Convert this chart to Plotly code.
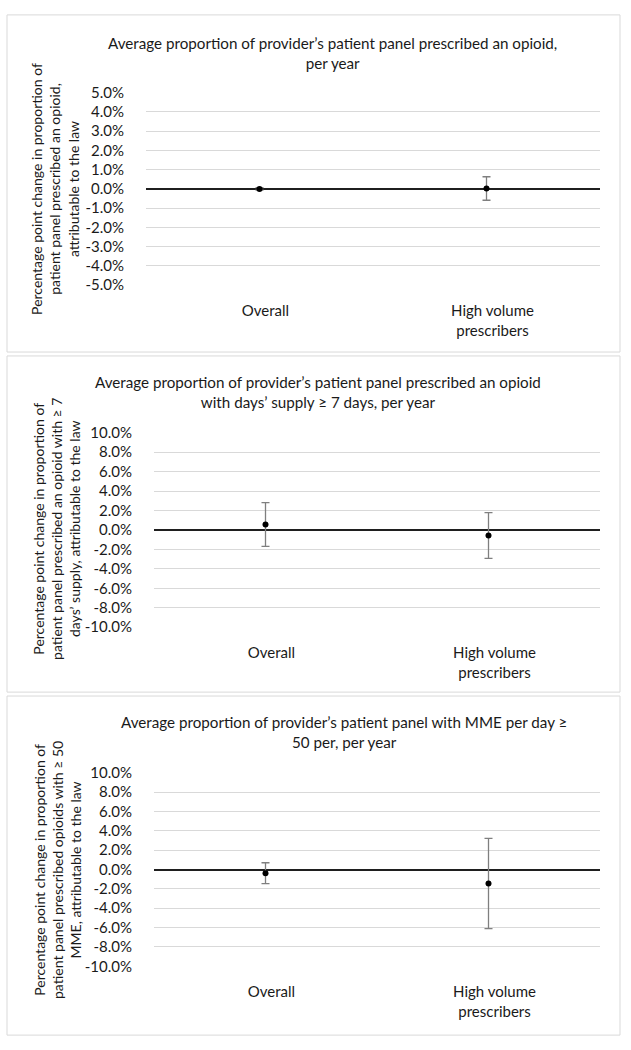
import plotly.graph_objects as go

W, H = 631, 1050

categories = ["Overall", "High volume<br>prescribers"]

titles = [
    "Average proportion of provider\u2019s patient panel prescribed an opioid,<br>per year",
    "Average proportion of provider\u2019s patient panel prescribed an opioid<br>with days\u2019 supply \u2265 7 days, per year",
    "Average proportion of provider\u2019s patient panel with MME per day \u2265<br>50 per, per year",
]
ytitles = [
    "Percentage point change in proportion of<br>patient panel prescribed an opioid,<br>attributable to the law",
    "Percentage point change in proportion of<br>patient panel prescribed an opioid with \u2265 7<br>days\u2019 supply, attributable to the law",
    "Percentage point change in proportion of<br>patient panel prescribed opioids with \u2265 50<br>MME, attributable to the law",
]

# point estimates and symmetric error (percentage points)
p1_values = [0.0, 0.02]
p1_err = [0.06, 0.61]
p2_values = [0.55, -0.58]
p2_err = [2.25, 2.35]
p3_values = [-0.38, -1.45]
p3_err = [1.08, 4.66]

p1_ticks = [5, 4, 3, 2, 1, 0, -1, -2, -3, -4, -5]
p23_ticks = [10, 8, 6, 4, 2, 0, -2, -4, -6, -8, -10]

values = [p1_values, p2_values, p3_values]
errors = [p1_err, p2_err, p3_err]
ticks = [p1_ticks, p23_ticks, p23_ticks]

# layout (pixels)
panels = [
    dict(box=(7, 5, 620, 348), plot=(146, 84, 600, 280), title=(332, 44), ytitle=(55, 182)),
    dict(box=(7, 352, 620, 694), plot=(154, 430, 600, 628), title=(318, 389), ytitle=(57, 528)),
    dict(box=(7, 698, 620, 1043), plot=(154, 776, 600, 973), title=(344, 735), ytitle=(57, 875)),
]

def px(x):
    return x / W

def py(y):
    return 1 - y / H

FONT = "Lato"
TXT = "#1a1a1a"

fig = go.Figure()
shapes = []
annotations = []

for i in range(3):
    p = panels[i]
    ax = "" if i == 0 else str(i + 1)
    fig.add_trace(go.Scatter(
        x=categories, y=values[i],
        mode="markers",
        marker=dict(color="black", size=6),
        error_y=dict(type="data", array=errors[i], visible=True,
                     color="#7f7f7f", thickness=1.3, width=4),
        xaxis="x" + ax, yaxis="y" + ax, showlegend=False,
        hoverinfo="skip",
    ))
    x0, y0, x1, y1 = p["plot"]
    tv = ticks[i]
    fig.layout["xaxis" + ax] = dict(
        domain=[px(x0), px(x1)], anchor="y" + ax,
        type="category", range=[-0.5, 1.5],
        showgrid=False, zeroline=False, showline=False, ticks="",
        tickfont=dict(family=FONT, size=15, color=TXT),
        ticklabelstandoff=15, ticklabelshift=6,
    )
    fig.layout["yaxis" + ax] = dict(
        domain=[py(y1), py(y0)], anchor="x" + ax,
        range=[tv[-1], tv[0]],
        tickvals=tv, ticktext=[f"{v:.1f}%" for v in tv],
        showgrid=True, gridcolor="#d9d9d9", gridwidth=1,
        zeroline=True, zerolinecolor="#1f1f1f", zerolinewidth=1.5,
        showline=False, ticks="",
        tickfont=dict(family=FONT, size=15, color=TXT),
        ticklabelstandoff=21,
    )
    bx0, by0, bx1, by1 = p["box"]
    shapes.append(dict(type="rect", xref="paper", yref="paper",
                       x0=px(bx0), x1=px(bx1), y0=py(by1), y1=py(by0),
                       line=dict(color="#d9d9d9", width=1), layer="below"))
    tx, ty = p["title"]
    annotations.append(dict(text=titles[i], x=px(tx), y=py(ty), xref="paper", yref="paper",
                            showarrow=False, xanchor="center", yanchor="middle",
                            font=dict(family=FONT, size=15.2, color=TXT)))
    yx, yy = p["ytitle"]
    annotations.append(dict(text=ytitles[i], x=px(yx), y=py(yy), xref="paper", yref="paper",
                            showarrow=False, xanchor="center", yanchor="middle",
                            textangle=-90,
                            font=dict(family=FONT, size=14, color=TXT)))

fig.update_layout(
    width=W, height=H,
    margin=dict(l=0, r=0, t=0, b=0),
    paper_bgcolor="white", plot_bgcolor="white",
    shapes=shapes, annotations=annotations,
)

fig.write_html("out.html", post_script="document.body.style.margin='0px';",
               config={"displayModeBar": False})
